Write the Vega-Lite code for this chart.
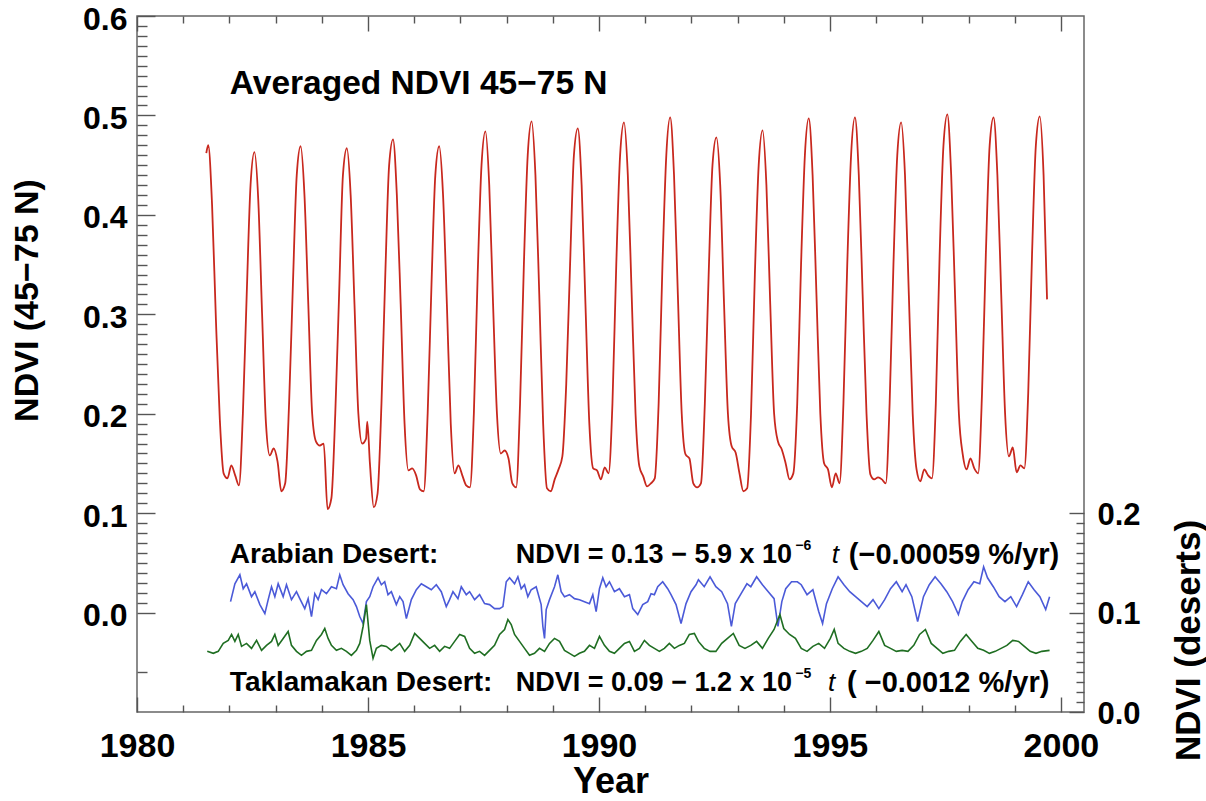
{
  "$schema": "https://vega.github.io/schema/vega-lite/v6.json",
  "width": 947,
  "height": 696,
  "autosize": {"type": "none"},
  "padding": {"left": 137, "top": 16, "right": 122, "bottom": 89},
  "background": "white",
  "config": {
    "view": {"stroke": "#666666", "strokeWidth": 1.5},
    "axis": {"labelFlush": false, "labelOverlap": false, "labelBound": false, "grid": false, "domain": false, "tickColor": "#555555", "tickWidth": 1.4}
  },
  "datasets": {
    "boreal": [
      {"t":1981.500,"v":0.462},{"t":1981.542,"v":0.470},{"t":1981.625,"v":0.410},{"t":1981.708,"v":0.295},{"t":1981.792,"v":0.195},{"t":1981.875,"v":0.140},{"t":1981.958,"v":0.135},
      {"t":1982.042,"v":0.148},{"t":1982.125,"v":0.138},{"t":1982.208,"v":0.128},{"t":1982.292,"v":0.200},{"t":1982.375,"v":0.320},{"t":1982.458,"v":0.430},{"t":1982.542,"v":0.463},{"t":1982.625,"v":0.415},{"t":1982.708,"v":0.300},{"t":1982.792,"v":0.190},{"t":1982.875,"v":0.158},{"t":1982.958,"v":0.165},
      {"t":1983.042,"v":0.152},{"t":1983.125,"v":0.122},{"t":1983.208,"v":0.130},{"t":1983.292,"v":0.210},{"t":1983.375,"v":0.330},{"t":1983.458,"v":0.440},{"t":1983.542,"v":0.469},{"t":1983.625,"v":0.420},{"t":1983.708,"v":0.310},{"t":1983.792,"v":0.200},{"t":1983.875,"v":0.172},{"t":1983.958,"v":0.168},
      {"t":1984.042,"v":0.170},{"t":1984.125,"v":0.104},{"t":1984.208,"v":0.115},{"t":1984.292,"v":0.200},{"t":1984.375,"v":0.320},{"t":1984.458,"v":0.440},{"t":1984.542,"v":0.467},{"t":1984.625,"v":0.420},{"t":1984.708,"v":0.310},{"t":1984.792,"v":0.200},{"t":1984.875,"v":0.170},{"t":1984.958,"v":0.175},{"t":1984.985,"v":0.192},
      {"t":1985.042,"v":0.150},{"t":1985.125,"v":0.106},{"t":1985.208,"v":0.120},{"t":1985.292,"v":0.210},{"t":1985.375,"v":0.340},{"t":1985.458,"v":0.450},{"t":1985.542,"v":0.476},{"t":1985.625,"v":0.420},{"t":1985.708,"v":0.310},{"t":1985.792,"v":0.190},{"t":1985.875,"v":0.143},{"t":1985.958,"v":0.145},
      {"t":1986.042,"v":0.138},{"t":1986.125,"v":0.124},{"t":1986.208,"v":0.122},{"t":1986.292,"v":0.200},{"t":1986.375,"v":0.330},{"t":1986.458,"v":0.440},{"t":1986.542,"v":0.469},{"t":1986.625,"v":0.420},{"t":1986.708,"v":0.310},{"t":1986.792,"v":0.190},{"t":1986.875,"v":0.140},{"t":1986.958,"v":0.148},
      {"t":1987.042,"v":0.138},{"t":1987.125,"v":0.128},{"t":1987.208,"v":0.126},{"t":1987.292,"v":0.200},{"t":1987.375,"v":0.340},{"t":1987.458,"v":0.450},{"t":1987.542,"v":0.484},{"t":1987.625,"v":0.430},{"t":1987.708,"v":0.310},{"t":1987.792,"v":0.200},{"t":1987.875,"v":0.160},{"t":1987.958,"v":0.163},
      {"t":1988.042,"v":0.155},{"t":1988.125,"v":0.130},{"t":1988.208,"v":0.126},{"t":1988.292,"v":0.210},{"t":1988.375,"v":0.350},{"t":1988.458,"v":0.460},{"t":1988.542,"v":0.494},{"t":1988.625,"v":0.440},{"t":1988.708,"v":0.320},{"t":1988.792,"v":0.190},{"t":1988.875,"v":0.125},{"t":1988.958,"v":0.122},
      {"t":1989.042,"v":0.134},{"t":1989.125,"v":0.144},{"t":1989.208,"v":0.157},{"t":1989.292,"v":0.230},{"t":1989.375,"v":0.350},{"t":1989.458,"v":0.460},{"t":1989.542,"v":0.487},{"t":1989.625,"v":0.430},{"t":1989.708,"v":0.310},{"t":1989.792,"v":0.190},{"t":1989.875,"v":0.145},{"t":1989.958,"v":0.143},
      {"t":1990.042,"v":0.134},{"t":1990.125,"v":0.146},{"t":1990.208,"v":0.140},{"t":1990.292,"v":0.210},{"t":1990.375,"v":0.350},{"t":1990.458,"v":0.460},{"t":1990.542,"v":0.493},{"t":1990.625,"v":0.440},{"t":1990.708,"v":0.320},{"t":1990.792,"v":0.200},{"t":1990.875,"v":0.147},{"t":1990.958,"v":0.137},
      {"t":1991.042,"v":0.127},{"t":1991.125,"v":0.130},{"t":1991.208,"v":0.135},{"t":1991.292,"v":0.210},{"t":1991.375,"v":0.350},{"t":1991.458,"v":0.460},{"t":1991.542,"v":0.498},{"t":1991.625,"v":0.440},{"t":1991.708,"v":0.320},{"t":1991.792,"v":0.200},{"t":1991.875,"v":0.159},{"t":1991.958,"v":0.155},
      {"t":1992.042,"v":0.130},{"t":1992.125,"v":0.126},{"t":1992.208,"v":0.130},{"t":1992.292,"v":0.210},{"t":1992.375,"v":0.340},{"t":1992.458,"v":0.450},{"t":1992.542,"v":0.478},{"t":1992.625,"v":0.430},{"t":1992.708,"v":0.310},{"t":1992.792,"v":0.200},{"t":1992.875,"v":0.167},{"t":1992.958,"v":0.161},
      {"t":1993.042,"v":0.140},{"t":1993.125,"v":0.122},{"t":1993.208,"v":0.125},{"t":1993.292,"v":0.200},{"t":1993.375,"v":0.340},{"t":1993.458,"v":0.450},{"t":1993.542,"v":0.485},{"t":1993.625,"v":0.430},{"t":1993.708,"v":0.310},{"t":1993.792,"v":0.200},{"t":1993.875,"v":0.172},{"t":1993.958,"v":0.164},
      {"t":1994.042,"v":0.150},{"t":1994.125,"v":0.134},{"t":1994.208,"v":0.140},{"t":1994.292,"v":0.210},{"t":1994.375,"v":0.350},{"t":1994.458,"v":0.460},{"t":1994.542,"v":0.497},{"t":1994.625,"v":0.440},{"t":1994.708,"v":0.320},{"t":1994.792,"v":0.200},{"t":1994.875,"v":0.150},{"t":1994.958,"v":0.144},
      {"t":1995.042,"v":0.126},{"t":1995.125,"v":0.140},{"t":1995.208,"v":0.130},{"t":1995.292,"v":0.210},{"t":1995.375,"v":0.350},{"t":1995.458,"v":0.460},{"t":1995.542,"v":0.498},{"t":1995.625,"v":0.440},{"t":1995.708,"v":0.320},{"t":1995.792,"v":0.200},{"t":1995.875,"v":0.139},{"t":1995.958,"v":0.134},
      {"t":1996.042,"v":0.136},{"t":1996.125,"v":0.134},{"t":1996.208,"v":0.130},{"t":1996.292,"v":0.210},{"t":1996.375,"v":0.350},{"t":1996.458,"v":0.460},{"t":1996.542,"v":0.493},{"t":1996.625,"v":0.440},{"t":1996.708,"v":0.320},{"t":1996.792,"v":0.200},{"t":1996.875,"v":0.144},{"t":1996.958,"v":0.132},
      {"t":1997.042,"v":0.144},{"t":1997.125,"v":0.138},{"t":1997.208,"v":0.135},{"t":1997.292,"v":0.210},{"t":1997.375,"v":0.360},{"t":1997.458,"v":0.470},{"t":1997.542,"v":0.501},{"t":1997.625,"v":0.440},{"t":1997.708,"v":0.320},{"t":1997.792,"v":0.200},{"t":1997.875,"v":0.159},{"t":1997.958,"v":0.144},
      {"t":1998.042,"v":0.155},{"t":1998.125,"v":0.145},{"t":1998.208,"v":0.140},{"t":1998.292,"v":0.220},{"t":1998.375,"v":0.360},{"t":1998.458,"v":0.470},{"t":1998.542,"v":0.498},{"t":1998.625,"v":0.440},{"t":1998.708,"v":0.320},{"t":1998.792,"v":0.200},{"t":1998.875,"v":0.157},{"t":1998.958,"v":0.166},
      {"t":1999.042,"v":0.141},{"t":1999.125,"v":0.148},{"t":1999.208,"v":0.145},{"t":1999.292,"v":0.220},{"t":1999.375,"v":0.360},{"t":1999.458,"v":0.470},{"t":1999.542,"v":0.499},{"t":1999.625,"v":0.440},{"t":1999.700,"v":0.315}
    ],
    "arabian": [
      {"t":1982.025,"v":0.111},{"t":1982.119,"v":0.129},{"t":1982.227,"v":0.138},{"t":1982.299,"v":0.124},{"t":1982.371,"v":0.129},{"t":1982.479,"v":0.116},{"t":1982.551,"v":0.121},{"t":1982.660,"v":0.108},{"t":1982.768,"v":0.099},{"t":1982.840,"v":0.113},{"t":1982.912,"v":0.126},{"t":1982.984,"v":0.116},
      {"t":1983.056,"v":0.129},{"t":1983.164,"v":0.116},{"t":1983.236,"v":0.128},{"t":1983.344,"v":0.113},{"t":1983.452,"v":0.121},{"t":1983.524,"v":0.114},{"t":1983.632,"v":0.104},{"t":1983.705,"v":0.114},{"t":1983.777,"v":0.096},{"t":1983.849,"v":0.119},{"t":1983.921,"v":0.113},{"t":1983.993,"v":0.123},
      {"t":1984.101,"v":0.119},{"t":1984.209,"v":0.126},{"t":1984.317,"v":0.124},{"t":1984.389,"v":0.138},{"t":1984.461,"v":0.128},{"t":1984.569,"v":0.119},{"t":1984.678,"v":0.113},{"t":1984.750,"v":0.106},{"t":1984.822,"v":0.096},{"t":1984.894,"v":0.089},{"t":1984.966,"v":0.111},
      {"t":1985.038,"v":0.116},{"t":1985.110,"v":0.126},{"t":1985.218,"v":0.135},{"t":1985.290,"v":0.128},{"t":1985.362,"v":0.131},{"t":1985.434,"v":0.118},{"t":1985.506,"v":0.121},{"t":1985.614,"v":0.108},{"t":1985.687,"v":0.116},{"t":1985.759,"v":0.111},{"t":1985.831,"v":0.094},{"t":1985.939,"v":0.113},
      {"t":1986.047,"v":0.123},{"t":1986.155,"v":0.129},{"t":1986.263,"v":0.126},{"t":1986.371,"v":0.123},{"t":1986.479,"v":0.128},{"t":1986.587,"v":0.121},{"t":1986.695,"v":0.106},{"t":1986.767,"v":0.113},{"t":1986.840,"v":0.121},{"t":1986.948,"v":0.114},
      {"t":1987.020,"v":0.126},{"t":1987.128,"v":0.118},{"t":1987.200,"v":0.121},{"t":1987.308,"v":0.113},{"t":1987.416,"v":0.118},{"t":1987.524,"v":0.109},{"t":1987.632,"v":0.108},{"t":1987.740,"v":0.104},{"t":1987.849,"v":0.104},{"t":1987.921,"v":0.106},{"t":1987.993,"v":0.131},
      {"t":1988.065,"v":0.135},{"t":1988.173,"v":0.129},{"t":1988.245,"v":0.136},{"t":1988.317,"v":0.124},{"t":1988.389,"v":0.128},{"t":1988.461,"v":0.116},{"t":1988.533,"v":0.123},{"t":1988.641,"v":0.126},{"t":1988.749,"v":0.108},{"t":1988.786,"v":0.086},{"t":1988.822,"v":0.074},{"t":1988.858,"v":0.103},{"t":1988.930,"v":0.113},
      {"t":1989.038,"v":0.126},{"t":1989.110,"v":0.138},{"t":1989.182,"v":0.121},{"t":1989.254,"v":0.116},{"t":1989.362,"v":0.118},{"t":1989.470,"v":0.114},{"t":1989.578,"v":0.113},{"t":1989.686,"v":0.111},{"t":1989.795,"v":0.109},{"t":1989.867,"v":0.118},{"t":1989.939,"v":0.101},
      {"t":1990.011,"v":0.124},{"t":1990.083,"v":0.135},{"t":1990.155,"v":0.126},{"t":1990.227,"v":0.131},{"t":1990.335,"v":0.121},{"t":1990.443,"v":0.124},{"t":1990.552,"v":0.116},{"t":1990.660,"v":0.118},{"t":1990.732,"v":0.104},{"t":1990.840,"v":0.098},{"t":1990.948,"v":0.108},
      {"t":1991.056,"v":0.111},{"t":1991.128,"v":0.119},{"t":1991.200,"v":0.118},{"t":1991.272,"v":0.126},{"t":1991.380,"v":0.131},{"t":1991.488,"v":0.124},{"t":1991.560,"v":0.118},{"t":1991.669,"v":0.108},{"t":1991.777,"v":0.089},{"t":1991.885,"v":0.109},{"t":1991.993,"v":0.121},
      {"t":1992.101,"v":0.128},{"t":1992.153,"v":0.133},{"t":1992.279,"v":0.126},{"t":1992.405,"v":0.136},{"t":1992.531,"v":0.126},{"t":1992.657,"v":0.121},{"t":1992.783,"v":0.109},{"t":1992.867,"v":0.086},{"t":1992.951,"v":0.109},
      {"t":1993.077,"v":0.119},{"t":1993.203,"v":0.129},{"t":1993.287,"v":0.126},{"t":1993.413,"v":0.136},{"t":1993.539,"v":0.128},{"t":1993.665,"v":0.121},{"t":1993.791,"v":0.114},{"t":1993.875,"v":0.086},{"t":1993.959,"v":0.111},
      {"t":1994.043,"v":0.124},{"t":1994.169,"v":0.131},{"t":1994.295,"v":0.131},{"t":1994.379,"v":0.128},{"t":1994.505,"v":0.118},{"t":1994.631,"v":0.123},{"t":1994.757,"v":0.101},{"t":1994.841,"v":0.089},{"t":1994.925,"v":0.109},
      {"t":1995.051,"v":0.124},{"t":1995.177,"v":0.136},{"t":1995.303,"v":0.128},{"t":1995.429,"v":0.121},{"t":1995.555,"v":0.116},{"t":1995.681,"v":0.111},{"t":1995.807,"v":0.106},{"t":1995.933,"v":0.113},
      {"t":1996.059,"v":0.104},{"t":1996.185,"v":0.113},{"t":1996.311,"v":0.124},{"t":1996.437,"v":0.131},{"t":1996.563,"v":0.121},{"t":1996.647,"v":0.128},{"t":1996.773,"v":0.116},{"t":1996.899,"v":0.091},
      {"t":1997.025,"v":0.116},{"t":1997.151,"v":0.128},{"t":1997.277,"v":0.136},{"t":1997.403,"v":0.129},{"t":1997.529,"v":0.121},{"t":1997.655,"v":0.111},{"t":1997.781,"v":0.098},{"t":1997.865,"v":0.111},{"t":1997.991,"v":0.123},
      {"t":1998.117,"v":0.131},{"t":1998.243,"v":0.129},{"t":1998.327,"v":0.146},{"t":1998.411,"v":0.135},{"t":1998.537,"v":0.126},{"t":1998.663,"v":0.116},{"t":1998.789,"v":0.111},{"t":1998.915,"v":0.116},
      {"t":1999.041,"v":0.106},{"t":1999.167,"v":0.118},{"t":1999.293,"v":0.131},{"t":1999.419,"v":0.123},{"t":1999.545,"v":0.116},{"t":1999.671,"v":0.103},{"t":1999.755,"v":0.116}
    ],
    "taklamakan": [
      {"t":1981.521,"v":0.061},{"t":1981.651,"v":0.059},{"t":1981.759,"v":0.061},{"t":1981.867,"v":0.069},{"t":1981.975,"v":0.072},
      {"t":1982.047,"v":0.078},{"t":1982.119,"v":0.071},{"t":1982.191,"v":0.078},{"t":1982.263,"v":0.066},{"t":1982.371,"v":0.069},{"t":1982.479,"v":0.064},{"t":1982.588,"v":0.072},{"t":1982.696,"v":0.062},{"t":1982.804,"v":0.067},{"t":1982.912,"v":0.071},{"t":1982.984,"v":0.078},
      {"t":1983.056,"v":0.067},{"t":1983.164,"v":0.074},{"t":1983.272,"v":0.081},{"t":1983.344,"v":0.067},{"t":1983.452,"v":0.061},{"t":1983.560,"v":0.057},{"t":1983.669,"v":0.061},{"t":1983.777,"v":0.062},{"t":1983.885,"v":0.072},{"t":1983.993,"v":0.078},
      {"t":1984.065,"v":0.084},{"t":1984.137,"v":0.074},{"t":1984.209,"v":0.067},{"t":1984.317,"v":0.062},{"t":1984.425,"v":0.064},{"t":1984.533,"v":0.061},{"t":1984.641,"v":0.057},{"t":1984.750,"v":0.062},{"t":1984.822,"v":0.069},{"t":1984.894,"v":0.086},{"t":1984.966,"v":0.108},
      {"t":1985.038,"v":0.072},{"t":1985.110,"v":0.054},{"t":1985.182,"v":0.064},{"t":1985.290,"v":0.067},{"t":1985.398,"v":0.066},{"t":1985.506,"v":0.062},{"t":1985.614,"v":0.066},{"t":1985.687,"v":0.069},{"t":1985.795,"v":0.061},{"t":1985.903,"v":0.067},
      {"t":1986.011,"v":0.079},{"t":1986.119,"v":0.074},{"t":1986.227,"v":0.069},{"t":1986.335,"v":0.064},{"t":1986.443,"v":0.067},{"t":1986.551,"v":0.061},{"t":1986.659,"v":0.066},{"t":1986.767,"v":0.064},{"t":1986.876,"v":0.071},{"t":1986.984,"v":0.078},
      {"t":1987.092,"v":0.076},{"t":1987.200,"v":0.064},{"t":1987.308,"v":0.059},{"t":1987.416,"v":0.061},{"t":1987.524,"v":0.057},{"t":1987.632,"v":0.062},{"t":1987.740,"v":0.067},{"t":1987.849,"v":0.078},{"t":1987.957,"v":0.083},
      {"t":1988.029,"v":0.093},{"t":1988.101,"v":0.088},{"t":1988.173,"v":0.078},{"t":1988.281,"v":0.071},{"t":1988.389,"v":0.064},{"t":1988.497,"v":0.057},{"t":1988.605,"v":0.059},{"t":1988.713,"v":0.064},{"t":1988.822,"v":0.061},{"t":1988.930,"v":0.069},
      {"t":1989.038,"v":0.074},{"t":1989.146,"v":0.071},{"t":1989.254,"v":0.062},{"t":1989.362,"v":0.059},{"t":1989.470,"v":0.056},{"t":1989.578,"v":0.059},{"t":1989.686,"v":0.061},{"t":1989.795,"v":0.067},{"t":1989.903,"v":0.064},
      {"t":1990.011,"v":0.076},{"t":1990.119,"v":0.067},{"t":1990.227,"v":0.061},{"t":1990.335,"v":0.059},{"t":1990.443,"v":0.064},{"t":1990.552,"v":0.069},{"t":1990.660,"v":0.071},{"t":1990.768,"v":0.061},{"t":1990.876,"v":0.064},{"t":1990.984,"v":0.072},
      {"t":1991.092,"v":0.067},{"t":1991.200,"v":0.064},{"t":1991.308,"v":0.061},{"t":1991.416,"v":0.064},{"t":1991.524,"v":0.069},{"t":1991.633,"v":0.064},{"t":1991.741,"v":0.067},{"t":1991.849,"v":0.069},{"t":1991.957,"v":0.078},
      {"t":1992.065,"v":0.079},{"t":1992.153,"v":0.071},{"t":1992.279,"v":0.064},{"t":1992.405,"v":0.061},{"t":1992.531,"v":0.061},{"t":1992.657,"v":0.069},{"t":1992.783,"v":0.074},{"t":1992.909,"v":0.079},
      {"t":1993.035,"v":0.067},{"t":1993.161,"v":0.064},{"t":1993.287,"v":0.067},{"t":1993.413,"v":0.071},{"t":1993.539,"v":0.064},{"t":1993.665,"v":0.074},{"t":1993.791,"v":0.083},{"t":1993.917,"v":0.098},
      {"t":1994.001,"v":0.084},{"t":1994.127,"v":0.078},{"t":1994.253,"v":0.074},{"t":1994.379,"v":0.064},{"t":1994.505,"v":0.061},{"t":1994.631,"v":0.066},{"t":1994.757,"v":0.069},{"t":1994.883,"v":0.064},
      {"t":1995.009,"v":0.074},{"t":1995.093,"v":0.083},{"t":1995.177,"v":0.069},{"t":1995.303,"v":0.064},{"t":1995.429,"v":0.061},{"t":1995.555,"v":0.059},{"t":1995.681,"v":0.061},{"t":1995.807,"v":0.064},{"t":1995.933,"v":0.072},
      {"t":1996.059,"v":0.081},{"t":1996.185,"v":0.067},{"t":1996.311,"v":0.064},{"t":1996.437,"v":0.061},{"t":1996.563,"v":0.062},{"t":1996.689,"v":0.061},{"t":1996.815,"v":0.067},{"t":1996.941,"v":0.078},
      {"t":1997.067,"v":0.083},{"t":1997.193,"v":0.069},{"t":1997.319,"v":0.064},{"t":1997.445,"v":0.059},{"t":1997.571,"v":0.061},{"t":1997.697,"v":0.062},{"t":1997.823,"v":0.071},{"t":1997.949,"v":0.078},
      {"t":1998.075,"v":0.071},{"t":1998.201,"v":0.064},{"t":1998.327,"v":0.062},{"t":1998.453,"v":0.059},{"t":1998.579,"v":0.061},{"t":1998.705,"v":0.064},{"t":1998.831,"v":0.067},{"t":1998.957,"v":0.072},
      {"t":1999.083,"v":0.071},{"t":1999.209,"v":0.066},{"t":1999.335,"v":0.061},{"t":1999.461,"v":0.059},{"t":1999.587,"v":0.061},{"t":1999.755,"v":0.062}
    ],
    "notes": [
      {"x":1982.01,"y":0.532,"text":"Averaged NDVI 45−75 N","kind":"title"},
      {"x":1982.01,"y":0.058,"text":"Arabian Desert:","kind":"label"},
      {"x":1988.2,"y":0.058,"text":"NDVI = 0.13 − 5.9 x 10","kind":"eq"},
      {"x":1995.41,"y":0.058,"text":"(−0.00059 %/yr)","kind":"rate"},
      {"x":1982.01,"y":-0.071,"text":"Taklamakan Desert:","kind":"label"},
      {"x":1988.2,"y":-0.071,"text":"NDVI = 0.09 − 1.2 x 10","kind":"eq"},
      {"x":1995.37,"y":-0.071,"text":"( −0.0012 %/yr)","kind":"rate"},
      {"x":1994.25,"y":0.067,"text":"−6","kind":"sup"},
      {"x":1994.25,"y":-0.062,"text":"−5","kind":"sup"},
      {"x":1995.04,"y":0.058,"text":"t","kind":"italic"},
      {"x":1994.96,"y":-0.071,"text":"t","kind":"italic"}
    ]
  },
  "layer": [
    {
      "data": {"name": "boreal"},
      "mark": {"type": "line", "color": "#C8281E", "strokeWidth": 1.8, "interpolate": "monotone"},
      "encoding": {
        "x": {"field": "t", "type": "quantitative", "scale": {"domain": [1980, 2000.5], "nice": false, "zero": false},
          "axis": {
            "orient": "bottom",
            "values": [1980,1981,1982,1983,1984,1985,1986,1987,1988,1989,1990,1991,1992,1993,1994,1995,1996,1997,1998,1999,2000],
            "labelExpr": "datum.value % 5 == 0 ? '' + datum.value : ''",
            "tickSize": {"condition": {"test": "datum.value % 5 == 0", "value": -15}, "value": -7},
            "labelPadding": 32,
            "labelFont": "Liberation Sans", "labelFontWeight": "bold", "labelFontSize": 34, "labelColor": "#000000",
            "title": "Year", "titleFont": "Liberation Sans", "titleFontWeight": "bold", "titleFontSize": 36, "titleColor": "#000000",
            "titleY": 69, "titleBaseline": "middle"
          }},
        "y": {"field": "v", "type": "quantitative", "scale": {"domain": [-0.1, 0.6], "nice": false, "zero": false},
          "axis": {
            "orient": "left",
            "values": [-0.06,0,0.01,0.02,0.03,0.04,0.05,0.06,0.07,0.08,0.09,0.1,0.11,0.12,0.13,0.14,0.15,0.16,0.17,0.18,0.19,0.2,0.21,0.22,0.23,0.24,0.25,0.26,0.27,0.28,0.29,0.3,0.31,0.32,0.33,0.34,0.35,0.36,0.37,0.38,0.39,0.4,0.41,0.42,0.43,0.44,0.45,0.46,0.47,0.48,0.49,0.5,0.51,0.52,0.53,0.54,0.55,0.56,0.57,0.58,0.59,0.6],
            "labelExpr": "abs(datum.value*10 - round(datum.value*10)) < 0.001 ? format(datum.value, '.1f') : ''",
            "tickSize": {"condition": {"test": "abs(datum.value*10 - round(datum.value*10)) < 0.001", "value": -18}, "value": -10},
            "labelPadding": 28,
            "labelOffset": 3,
            "labelFont": "Liberation Sans", "labelFontWeight": "bold", "labelFontSize": 32, "labelColor": "#000000",
            "title": "NDVI (45−75 N)", "titleFont": "Liberation Sans", "titleFontWeight": "bold", "titleFontSize": 34, "titleColor": "#000000",
            "titleX": -110, "titleY": 284, "titleBaseline": "middle", "titleAlign": "center", "titleAngle": 270
          }}
      }
    },
    {
      "data": {"name": "arabian"},
      "mark": {"type": "line", "color": "#4B5AD8", "strokeWidth": 1.6},
      "encoding": {
        "x": {"field": "t", "type": "quantitative", "scale": {"domain": [1980, 2000.5], "nice": false, "zero": false}, "axis": null},
        "y": {"field": "v", "type": "quantitative", "scale": {"domain": [0, 0.7], "nice": false, "zero": false},
          "axis": {
            "orient": "right",
            "values": [0,0.01,0.02,0.03,0.04,0.05,0.06,0.07,0.08,0.09,0.1,0.11,0.12,0.13,0.14,0.15,0.16,0.17,0.18,0.19,0.2],
            "labelExpr": "abs(datum.value*10 - round(datum.value*10)) < 0.001 ? format(datum.value, '.1f') : ''",
            "tickSize": {"condition": {"test": "abs(datum.value*10 - round(datum.value*10)) < 0.001", "value": -15}, "value": -8},
            "labelPadding": 28,
            "labelOffset": 2,
            "labelFont": "Liberation Sans", "labelFontWeight": "bold", "labelFontSize": 31, "labelColor": "#000000",
            "title": "NDVI (deserts)", "titleFont": "Liberation Sans", "titleFontWeight": "bold", "titleFontSize": 35, "titleColor": "#000000",
            "titleX": 104, "titleY": 624, "titleBaseline": "middle", "titleAlign": "center", "titleAngle": 270
          }}
      }
    },
    {
      "data": {"name": "taklamakan"},
      "mark": {"type": "line", "color": "#1F6E22", "strokeWidth": 1.6},
      "encoding": {
        "x": {"field": "t", "type": "quantitative", "scale": {"domain": [1980, 2000.5], "nice": false, "zero": false}, "axis": null},
        "y": {"field": "v", "type": "quantitative", "scale": {"domain": [0, 0.7], "nice": false, "zero": false}, "axis": null}
      }
    },
    {
      "data": {"name": "notes"},
      "transform": [{"filter": "datum.kind == 'title'"}],
      "mark": {"type": "text", "align": "left", "baseline": "middle", "font": "Liberation Sans", "fontWeight": "bold", "fontSize": 33.5, "color": "#000000"},
      "encoding": {
        "x": {"field": "x", "type": "quantitative", "scale": {"domain": [1980, 2000.5], "nice": false, "zero": false},
          "axis": {
            "orient": "top",
            "values": [1980,1981,1982,1983,1984,1985,1986,1987,1988,1989,1990,1991,1992,1993,1994,1995,1996,1997,1998,1999,2000],
            "labels": false,
            "tickSize": {"condition": {"test": "datum.value % 5 == 0", "value": -15}, "value": -7},
            "title": null
          }},
        "y": {"field": "y", "type": "quantitative", "scale": {"domain": [-0.1, 0.6], "nice": false, "zero": false}, "axis": null},
        "text": {"field": "text"}
      }
    },
    {
      "data": {"name": "notes"},
      "transform": [{"filter": "datum.kind == 'label'"}],
      "mark": {"type": "text", "align": "left", "baseline": "middle", "font": "Liberation Sans", "fontWeight": "bold", "fontSize": 28, "color": "#000000"},
      "encoding": {
        "x": {"field": "x", "type": "quantitative", "scale": {"domain": [1980, 2000.5], "nice": false, "zero": false}, "axis": null},
        "y": {"field": "y", "type": "quantitative", "scale": {"domain": [-0.1, 0.6], "nice": false, "zero": false}, "axis": null},
        "text": {"field": "text"}
      }
    },
    {
      "data": {"name": "notes"},
      "transform": [{"filter": "datum.kind == 'eq'"}],
      "mark": {"type": "text", "align": "left", "baseline": "middle", "font": "Liberation Sans", "fontWeight": "bold", "fontSize": 27, "color": "#000000"},
      "encoding": {
        "x": {"field": "x", "type": "quantitative", "scale": {"domain": [1980, 2000.5], "nice": false, "zero": false}, "axis": null},
        "y": {"field": "y", "type": "quantitative", "scale": {"domain": [-0.1, 0.6], "nice": false, "zero": false}, "axis": null},
        "text": {"field": "text"}
      }
    },
    {
      "data": {"name": "notes"},
      "transform": [{"filter": "datum.kind == 'rate'"}],
      "mark": {"type": "text", "align": "left", "baseline": "middle", "font": "Liberation Sans", "fontWeight": "bold", "fontSize": 29, "color": "#000000"},
      "encoding": {
        "x": {"field": "x", "type": "quantitative", "scale": {"domain": [1980, 2000.5], "nice": false, "zero": false}, "axis": null},
        "y": {"field": "y", "type": "quantitative", "scale": {"domain": [-0.1, 0.6], "nice": false, "zero": false}, "axis": null},
        "text": {"field": "text"}
      }
    },
    {
      "data": {"name": "notes"},
      "transform": [{"filter": "datum.kind == 'sup'"}],
      "mark": {"type": "text", "align": "left", "baseline": "middle", "font": "Liberation Sans", "fontWeight": "bold", "fontSize": 14, "color": "#000000"},
      "encoding": {
        "x": {"field": "x", "type": "quantitative", "scale": {"domain": [1980, 2000.5], "nice": false, "zero": false}, "axis": null},
        "y": {"field": "y", "type": "quantitative", "scale": {"domain": [-0.1, 0.6], "nice": false, "zero": false}, "axis": null},
        "text": {"field": "text"}
      }
    },
    {
      "data": {"name": "notes"},
      "transform": [{"filter": "datum.kind == 'italic'"}],
      "mark": {"type": "text", "align": "left", "baseline": "middle", "font": "Liberation Sans", "fontStyle": "italic", "fontWeight": "normal", "fontSize": 26, "color": "#000000"},
      "encoding": {
        "x": {"field": "x", "type": "quantitative", "scale": {"domain": [1980, 2000.5], "nice": false, "zero": false}, "axis": null},
        "y": {"field": "y", "type": "quantitative", "scale": {"domain": [-0.1, 0.6], "nice": false, "zero": false}, "axis": null},
        "text": {"field": "text"}
      }
    }
  ],
  "resolve": {"scale": {"y": "independent"}, "axis": {"x": "independent", "y": "independent"}}
}
